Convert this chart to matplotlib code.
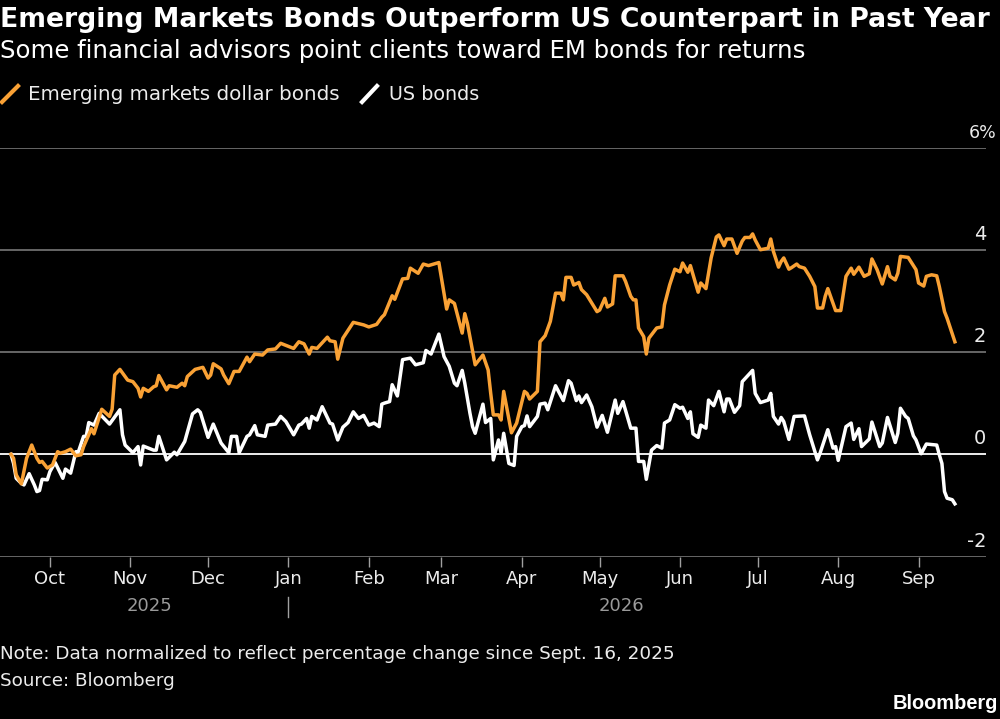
import matplotlib
matplotlib.use('Agg')
import matplotlib.pyplot as plt
from matplotlib.lines import Line2D
import pandas as pd

# days since Sept. 16, 2025
em_days = [0, 1, 2, 4, 6, 8, 10, 11, 12, 14, 16, 18, 19, 21, 23, 25, 27, 28, 31, 32, 35, 38, 39, 40, 42, 45, 47, 49, 50, 51,
           53, 55, 56, 57, 60, 61, 64, 66, 67, 68, 71, 74, 76, 77, 78, 81, 82, 84, 86, 88, 91, 92, 94, 97, 99, 102, 104,
           109, 111, 113, 115, 116, 118, 122, 123, 125, 126, 128, 132, 136, 138, 141, 143, 144, 147, 148, 151, 153, 154,
           157, 159, 161, 165, 168, 169, 171, 174, 175, 176, 179, 182, 184, 185, 186, 188, 189, 190, 193, 195, 198, 199,
           200, 203, 204, 206, 208, 210, 212, 213, 214, 216, 217, 219, 220, 222, 226, 227, 229, 230, 232, 233, 236, 237,
           239, 240, 241, 242, 244, 245, 246, 249, 251, 252, 254, 256, 258, 259, 261, 262, 265, 266, 268, 270, 272, 273,
           275, 276, 278, 280, 282, 283, 285, 286, 287, 289, 292, 293, 294, 296, 297, 298, 300, 301, 303, 304, 306, 308,
           310, 311, 313, 314, 315, 318, 320, 322, 324, 325, 327, 329, 331, 332, 334, 336, 338, 339, 341, 342, 343, 346,
           349, 350, 352, 353, 355, 357, 358, 360, 361, 364]
em_values = [0.0, -0.08, -0.40, -0.58, -0.08, 0.18, -0.08, -0.16, -0.14, -0.27, -0.21, 0.05, 0.02, 0.05, 0.10, -0.03, -0.01,
             0.15, 0.50, 0.40, 0.88, 0.74, 0.88, 1.55, 1.66, 1.45, 1.42, 1.29, 1.12, 1.29, 1.23, 1.32, 1.34, 1.54, 1.26,
             1.34, 1.31, 1.39, 1.34, 1.52, 1.66, 1.70, 1.49, 1.55, 1.77, 1.67, 1.55, 1.38, 1.62, 1.62, 1.90, 1.81, 1.96,
             1.94, 2.04, 2.06, 2.17, 2.07, 2.20, 2.16, 1.96, 2.09, 2.07, 2.29, 2.22, 2.20, 1.86, 2.27, 2.58, 2.53, 2.49,
             2.54, 2.68, 2.73, 3.10, 3.03, 3.43, 3.44, 3.64, 3.54, 3.72, 3.69, 3.75, 2.84, 3.02, 2.95, 2.37, 2.75, 2.56,
             1.75, 1.94, 1.65, 1.19, 0.77, 0.77, 0.67, 1.23, 0.42, 0.61, 1.23, 1.19, 1.08, 1.23, 2.20, 2.32, 2.60, 3.15,
             3.15, 3.02, 3.46, 3.46, 3.31, 3.36, 3.22, 3.12, 2.79, 2.82, 3.05, 2.88, 2.94, 3.49, 3.49, 3.38, 3.09, 3.02,
             3.02, 2.47, 2.30, 1.96, 2.27, 2.47, 2.49, 2.92, 3.31, 3.62, 3.57, 3.74, 3.56, 3.69, 3.17, 3.35, 3.24, 3.84,
             4.25, 4.29, 4.08, 4.21, 4.21, 3.93, 4.17, 4.24, 4.24, 4.31, 4.19, 4.00, 4.03, 4.21, 3.97, 3.66, 3.77, 3.84,
             3.62, 3.65, 3.72, 3.67, 3.64, 3.48, 3.28, 2.86, 2.86, 3.09, 3.24, 2.81, 2.81, 3.48, 3.64, 3.52, 3.66, 3.48,
             3.53, 3.82, 3.61, 3.33, 3.67, 3.48, 3.41, 3.54, 3.87, 3.85, 3.61, 3.35, 3.29, 3.48, 3.51, 3.49, 3.28, 2.79,
             2.66, 2.20]

us_days = [0, 1, 2, 4, 5, 7, 9, 10, 11, 12, 14, 15, 17, 20, 21, 23, 25, 26, 28, 29, 30, 32, 34, 38, 42, 43, 44, 47, 49, 50,
           51, 55, 56, 57, 60, 63, 64, 67, 70, 72, 73, 76, 78, 81, 84, 85, 87, 88, 91, 92, 94, 95, 98, 99, 102, 104, 106,
           109, 111, 112, 114, 115, 116, 118, 120, 123, 124, 126, 128, 130, 132, 134, 136, 138, 140, 142, 143, 144, 146,
           147, 149, 151, 154, 156, 159, 160, 162, 165, 167, 169, 171, 172, 174, 175, 177, 178, 179, 182, 183, 185, 186,
           188, 189, 190, 192, 194, 195, 197, 198, 199, 200, 203, 204, 206, 207, 210, 213, 215, 216, 218, 219, 220, 222,
           224, 226, 228, 230, 233, 234, 236, 239, 241, 242, 244, 245, 247, 249, 251, 252, 254, 256, 258, 259, 261, 262,
           263, 265, 266, 268, 269, 271, 273, 275, 276, 277, 279, 281, 282, 286, 287, 289, 292, 293, 294, 296, 297, 298,
           300, 302, 306, 308, 311, 312, 315, 317, 318, 319, 322, 324, 325, 327, 328, 331, 332, 335, 336, 338, 341, 342,
           343, 345, 346, 348, 349, 351, 353, 357, 358, 359, 360, 361, 363, 364]
us_values = [0.0, -0.18, -0.47, -0.57, -0.60, -0.38, -0.60, -0.73, -0.71, -0.49, -0.50, -0.34, -0.16, -0.47, -0.29, -0.37,
             0.05, 0.05, 0.35, 0.35, 0.62, 0.57, 0.80, 0.59, 0.87, 0.38, 0.18, 0.03, 0.15, -0.21, 0.16, 0.08, 0.08, 0.35,
             -0.11, 0.04, -0.01, 0.25, 0.79, 0.87, 0.82, 0.33, 0.59, 0.22, 0.03, 0.35, 0.35, 0.03, 0.35, 0.38, 0.56, 0.38,
             0.35, 0.57, 0.59, 0.74, 0.64, 0.38, 0.57, 0.59, 0.70, 0.51, 0.74, 0.67, 0.93, 0.61, 0.59, 0.28, 0.53, 0.62,
             0.83, 0.70, 0.76, 0.57, 0.61, 0.54, 0.98, 1.00, 1.03, 1.36, 1.14, 1.85, 1.88, 1.75, 1.79, 2.03, 1.96, 2.35,
             1.91, 1.72, 1.39, 1.34, 1.64, 1.39, 0.80, 0.54, 0.41, 0.98, 0.62, 0.70, -0.11, 0.28, 0.02, 0.41, -0.18, -0.22,
             0.35, 0.54, 0.56, 0.75, 0.54, 0.74, 0.98, 1.00, 0.87, 1.34, 1.05, 1.44, 1.39, 1.05, 1.14, 1.01, 1.16, 0.93,
             0.53, 0.76, 0.43, 1.06, 0.80, 1.03, 0.51, 0.51, -0.14, -0.14, -0.49, 0.08, 0.17, 0.12, 0.61, 0.67, 0.97, 0.90,
             0.92, 0.70, 0.83, 0.40, 0.33, 0.57, 0.51, 1.06, 0.95, 1.23, 0.83, 1.08, 1.08, 0.82, 0.95, 1.42, 1.64, 1.19,
             1.01, 1.06, 1.19, 0.74, 0.59, 0.72, 0.64, 0.29, 0.74, 0.75, 0.38, -0.11, 0.02, 0.48, 0.12, 0.15, -0.12, 0.54,
             0.61, 0.29, 0.50, 0.15, 0.30, 0.63, 0.15, 0.22, 0.72, 0.23, 0.41, 0.90, 0.74, 0.70, 0.36, 0.28, 0.01, 0.20,
             0.18, -0.01, -0.18, -0.73, -0.86, -0.89, -0.97]

y_ticks = [-2, 0, 2, 4]
y_labels = ['-2', '0', '2', '4']
y_top = 6
y_top_label = '6%'
month_ticks = pd.date_range('2025-10-01', periods=12, freq='MS')
start = pd.Timestamp('2025-09-16')
W, H = 1000, 719

ORANGE = '#F9A135'
GRAY = '#6e6e6e'
TEXT = '#ececec'


def put(x, y, s, **kw):
    # place text by its baseline, in pixels from the top left
    return fig.text(x / W, 1 - y / H, s, va='baseline', **kw)


plt.rcParams['font.family'] = 'DejaVu Sans'
fig = plt.figure(figsize=(10, 7.19), dpi=100, facecolor='black')
ax = fig.add_axes([0, 1 - 556.5 / H, 986 / W, (556.5 - 147.5) / H], facecolor='black')

em_dates = start + pd.to_timedelta(em_days, unit='D')
us_dates = start + pd.to_timedelta(us_days, unit='D')

for t in y_ticks + [y_top]:
    ax.axhline(t, color='white' if t == 0 else GRAY, lw=1.3, zorder=1)
ax.plot(us_dates, us_values, color='white', lw=2.5, solid_joinstyle='round', zorder=3)
ax.plot(em_dates, em_values, color=ORANGE, lw=2.5, solid_joinstyle='round', zorder=4)

ax.set_ylim(-2, 6)
ax.set_xlim(start - pd.Timedelta(days=4.24), start + pd.Timedelta(days=376))
for s in ax.spines.values():
    s.set_visible(False)
ax.set_yticks([])
ax.set_xticks(month_ticks)
ax.set_xticklabels(month_ticks.strftime('%b'))
ax.tick_params(axis='x', length=7, width=1, color='#a0a0a0', labelcolor=TEXT, labelsize=13, pad=3)

for t, lab in zip(y_ticks, y_labels):
    ax.text(1.0, t + 0.195, lab, transform=ax.get_yaxis_transform(), color=TEXT,
            fontsize=14, ha='right', va='baseline')
# the % hangs past the end of the gridlines
ax.text(997 / 986, y_top + 0.195, y_top_label, transform=ax.get_yaxis_transform(), color=TEXT,
        fontsize=12.5, ha='right', va='baseline', clip_on=False)

# year labels and the separator under Jan
ax.plot([pd.Timestamp('2026-01-01')] * 2, [-0.098, -0.147], transform=ax.get_xaxis_transform(),
        color='#a0a0a0', lw=1, clip_on=False)
put(149, 611, '2025', color='#9a9a9a', fontsize=13, ha='center')
put(621, 611, '2026', color='#9a9a9a', fontsize=13, ha='center')

put(0, 27, 'Emerging Markets Bonds Outperform US Counterpart in Past Year', color='white',
    fontsize=19.15, fontweight='bold', ha='left')
put(0, 58, 'Some financial advisors point clients toward EM bonds for returns', color='white',
    fontsize=17.55, ha='left')

# legend keys are short slashes
fig.add_artist(Line2D([2 / W, 18 / W], [1 - 102 / H, 1 - 86 / H], color=ORANGE, lw=3))
fig.add_artist(Line2D([362 / W, 377 / W], [1 - 102 / H, 1 - 86 / H], color='white', lw=3))
put(28, 100.5, 'Emerging markets dollar bonds', color=TEXT, fontsize=14.35, ha='left')
put(389, 100.5, 'US bonds', color=TEXT, fontsize=13.8, ha='left')

put(0, 659, 'Note: Data normalized to reflect percentage change since Sept. 16, 2025', color=TEXT,
    fontsize=13.2, ha='left')
put(0, 686, 'Source: Bloomberg', color=TEXT, fontsize=13.2, ha='left')
put(998, 709, 'Bloomberg', color='white', fontsize=14.4, fontweight='bold',
    family='Liberation Sans', ha='right')

fig.savefig('out.png', dpi=100, facecolor='black')
